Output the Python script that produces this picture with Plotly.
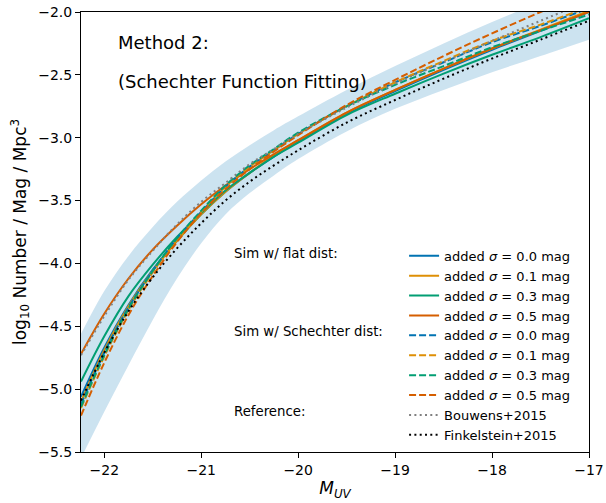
import plotly.graph_objects as go

# Absolute UV magnitude grid
M_UV = [-22.24, -22.0, -21.75, -21.5, -21.25, -21.0, -20.75, -20.5, -20.25,
        -20.0, -19.5, -19.0, -18.5, -18.0, -17.5, -17.0]

# Shaded uncertainty band
band_upper = [-4.56, -4.22, -3.94, -3.71, -3.51, -3.34, -3.19, -3.06, -2.94,
              -2.83, -2.62, -2.43, -2.25, -2.08, -1.92, -1.77]
band_lower = [-5.55, -5.18, -4.81, -4.45, -4.12, -3.84, -3.61, -3.44, -3.30,
              -3.17, -2.95, -2.77, -2.62, -2.48, -2.35, -2.22]

# Sim w/ flat dist
flat_00 = [-5.06, -4.67, -4.33, -4.05, -3.82, -3.61, -3.43, -3.28, -3.15,
           -3.03, -2.81, -2.63, -2.46, -2.30, -2.15, -2.00]
flat_01 = [-5.10, -4.69, -4.34, -4.06, -3.82, -3.61, -3.43, -3.28, -3.14,
           -3.02, -2.80, -2.62, -2.45, -2.29, -2.14, -1.99]
flat_03 = [-4.94, -4.58, -4.26, -4.01, -3.79, -3.60, -3.42, -3.28, -3.15,
           -3.04, -2.82, -2.65, -2.49, -2.34, -2.20, -2.05]
flat_05 = [-4.72, -4.40, -4.12, -3.89, -3.70, -3.53, -3.38, -3.25, -3.13,
           -3.02, -2.80, -2.62, -2.45, -2.29, -2.145, -2.00]

# Sim w/ Schechter dist
sch_00 = [-5.12, -4.71, -4.35, -4.06, -3.80, -3.59, -3.39, -3.23, -3.10,
          -2.97, -2.75, -2.56, -2.40, -2.24, -2.11, -1.97]
sch_01 = [-5.15, -4.74, -4.37, -4.07, -3.81, -3.59, -3.39, -3.23, -3.10,
          -2.97, -2.75, -2.56, -2.39, -2.23, -2.10, -1.96]
sch_03 = [-5.14, -4.73, -4.36, -4.06, -3.80, -3.58, -3.38, -3.22, -3.09,
          -2.96, -2.75, -2.58, -2.43, -2.28, -2.15, -2.02]
sch_05 = [-5.21, -4.79, -4.41, -4.10, -3.83, -3.60, -3.41, -3.25, -3.11,
          -2.98, -2.74, -2.54, -2.35, -2.17, -2.00, -1.84]

# References
bouwens15 = [-4.73, -4.42, -4.13, -3.90, -3.69, -3.51, -3.36, -3.21, -3.09,
             -2.97, -2.76, -2.57, -2.40, -2.23, -2.07, -1.91]
finkelstein15 = [-5.09, -4.71, -4.38, -4.11, -3.88, -3.68, -3.50, -3.35, -3.22,
                 -3.10, -2.88, -2.70, -2.53, -2.37, -2.22, -2.07]

sigma_labels = ["added <i>σ</i> = 0.0 mag", "added <i>σ</i> = 0.1 mag",
                "added <i>σ</i> = 0.3 mag", "added <i>σ</i> = 0.5 mag"]
ref_labels = ["Bouwens+2015", "Finkelstein+2015"]
x_ticks = [-22, -21, -20, -19, -18, -17]
y_ticks = [-5.5, -5.0, -4.5, -4.0, -3.5, -3.0, -2.5, -2.0]

colors = ["#0173B2", "#DE8F05", "#029E73", "#D55E00"]
FONT = "DejaVu Sans"

fig = go.Figure()

fig.add_trace(go.Scatter(x=M_UV, y=band_lower, mode="lines", line=dict(width=0, shape="spline"),
                         showlegend=False, hoverinfo="skip"))
fig.add_trace(go.Scatter(x=M_UV, y=band_upper, mode="lines", line=dict(width=0, shape="spline"),
                         fill="tonexty", fillcolor="rgba(1,115,178,0.2)",
                         showlegend=False, hoverinfo="skip"))

for series, lab, col in zip([flat_00, flat_01, flat_03, flat_05], sigma_labels, colors):
    fig.add_trace(go.Scatter(x=M_UV, y=series, mode="lines", name=lab,
                             line=dict(color=col, width=2, shape="spline")))
for series, lab, col in zip([sch_00, sch_01, sch_03, sch_05], sigma_labels, colors):
    fig.add_trace(go.Scatter(x=M_UV, y=series, mode="lines", name=lab,
                             line=dict(color=col, width=2, dash="7px,3px", shape="spline")))
fig.add_trace(go.Scatter(x=M_UV, y=bouwens15, mode="lines", name=ref_labels[0],
                         line=dict(color="#808080", width=2, dash="2px,3.3px", shape="spline")))
fig.add_trace(go.Scatter(x=M_UV, y=finkelstein15, mode="lines", name=ref_labels[1],
                         line=dict(color="black", width=2, dash="2px,3.3px", shape="spline")))

axis_common = dict(showgrid=False, zeroline=False, showline=True, linecolor="black",
                   linewidth=1, mirror=True, ticks="outside", ticklen=5, tickwidth=1,
                   tickcolor="black", automargin=False,
                   tickfont=dict(family=FONT, size=14, color="black"))

fig.update_xaxes(range=[-22.24, -17], tickvals=x_ticks,
                 title=dict(text="<i>M</i><sub><i>UV</i></sub>",
                            font=dict(family=FONT, size=17, color="black"), standoff=5),
                 **axis_common)
fig.update_yaxes(range=[-5.5, -2.0], tickvals=y_ticks, tickformat=".1f",
                 title=dict(text="log<sub>10</sub> Number / Mag / Mpc<sup>3</sup>",
                            font=dict(family=FONT, size=17, color="black"), standoff=7),
                 **axis_common)

annots = [
    dict(text="Method 2:", x=0.069, y=0.93, size=18),
    dict(text="(Schechter Function Fitting)", x=0.069, y=0.843, size=18),
    dict(text="Sim w/ flat dist:", x=0.297, y=0.452, size=13.3),
    dict(text="Sim w/ Schechter dist:", x=0.297, y=0.273, size=13.3),
    dict(text="Reference:", x=0.297, y=0.093, size=13.3),
]
for a in annots:
    fig.add_annotation(text=a["text"], x=a["x"], y=a["y"], xref="paper", yref="paper",
                       xanchor="left", yanchor="middle", showarrow=False,
                       font=dict(family=FONT, size=a["size"], color="black"))

fig.update_layout(
    width=606, height=503,
    margin=dict(l=81, r=17, t=12, b=51, autoexpand=False),
    paper_bgcolor="white", plot_bgcolor="white",
    font=dict(family=FONT, color="black"),
    legend=dict(x=0.636, y=0.48, xanchor="left", yanchor="top", traceorder="normal",
                bgcolor="rgba(0,0,0,0)", borderwidth=0, itemwidth=30,
                font=dict(family=FONT, size=13, color="black"),
                tracegroupgap=0),
    showlegend=True,
)

# remove the browser's default 8px body margin so the figure sits at the page corner
fig.write_html("out.html", config={"displayModeBar": False},
               post_script="document.body.style.margin='0';document.body.style.overflow='hidden';")
